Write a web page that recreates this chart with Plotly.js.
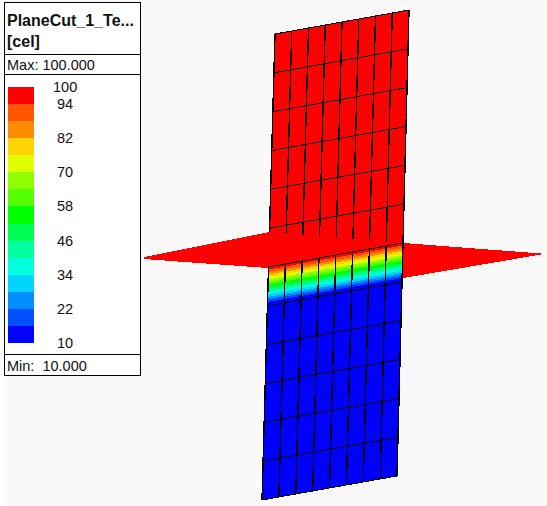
<!DOCTYPE html>
<html>
<head>
<meta charset="utf-8">
<script src="https://cdn.plot.ly/plotly-3.0.1.min.js"></script>
<style>
html,body{margin:0;padding:0;background:#fff}
#chart{width:547px;height:506px}
.js-plotly-plot .scatterlayer path,.js-plotly-plot .barlayer path,.js-plotly-plot .shapelayer path{shape-rendering:crispEdges}
</style>
</head>
<body>
<div id="chart"></div>
<script>
// Legend
const titleLines = ['PlaneCut_1_Te...', '[cel]'];
const maxLabel = 'Max: 100.000';
const minLabel = 'Min:  10.000';
const tickLabels = [100, 94, 82, 70, 58, 46, 34, 22, 10];
const bandLows = [94,88,82,76,70,64,58,52,46,40,34,28,22,16,10];
const bandColors = ['#ff0000','#ff5500','#ff8c00','#ffd400','#dfff00','#8fff00','#55ff00','#00ff00','#00ff55','#00ff9f','#00ffdd','#00d4ff','#008fff','#0050ff','#0000ff'];

// Cut planes, outline points
const uprightTopLeft = [275, 34], uprightTopRight = [409, 10];
const uprightBottomLeft = [262, 500], uprightBottomRight = [397, 476];
const flatX = [144, 270, 403, 541, 541, 403, 268, 144];
const flatY = [257, 232, 243, 253.5, 254.5, 278, 268, 259];
const meshColumns = 8, meshRows = 12, meshRowOfCut = 6;
const gradientDepth = 35;   // px down the plane from 100 to the last band

const lerp = (a, b, t) => a + (b - a) * t;
const onPlane = (u, v) => {
  const lx = lerp(uprightTopLeft[0], uprightBottomLeft[0], v), ly = lerp(uprightTopLeft[1], uprightBottomLeft[1], v);
  const rx = lerp(uprightTopRight[0], uprightBottomRight[0], v), ry = lerp(uprightTopRight[1], uprightBottomRight[1], v);
  return [lerp(lx, rx, u), lerp(ly, ry, u)];
};
const span = uprightBottomLeft[1] - uprightTopLeft[1];
const cutV = meshRowOfCut / meshRows;

function poly(pts, color) {
  return {type:'scatter', mode:'lines', x:pts.map(p=>p[0]), y:pts.map(p=>p[1]),
    fill:'toself', fillcolor:color, line:{width:0, color:color}, hoverinfo:'skip', showlegend:false};
}
function lineTrace(xs, ys, width) {
  return {type:'scatter', mode:'lines', x:xs, y:ys, line:{color:'#000', width}, hoverinfo:'skip', showlegend:false, connectgaps:false};
}
function meshLines(vFrom, vTo, rowFrom, rowTo) {
  const vx = [], vy = [], hx = [], hy = [];
  for (let c = 0; c <= meshColumns; c++) {
    const u = c / meshColumns;
    const a = onPlane(u, vFrom), b = onPlane(u, vTo);
    vx.push(a[0], b[0], null); vy.push(a[1], b[1], null);
  }
  for (let r = rowFrom; r <= rowTo; r++) {
    const a = onPlane(0, r / meshRows), b = onPlane(1, r / meshRows);
    hx.push(a[0], b[0], null); hy.push(a[1], b[1], null);
  }
  return [lineTrace(vx, vy, 1.4), lineTrace(hx, hy, 1)];
}

const traces = [];
// upper half of the upright plane
traces.push(poly([onPlane(0,0), onPlane(1,0), onPlane(1,cutV), onPlane(0,cutV)], '#ff0000'));
traces.push(...meshLines(0, cutV, 0, meshRowOfCut - 1));
// horizontal plane
traces.push(poly(flatX.map((x,i)=>[x, flatY[i]]), '#ff0000'));
// lower half
traces.push(poly([onPlane(0,cutV), onPlane(1,cutV), onPlane(1,1), onPlane(0,1)], '#0000ff'));
// temperature bands below the cut
bandColors.forEach((color, i) => {
  if (i === bandColors.length - 1) return;
  const v0 = cutV + (i / (bandColors.length - 1)) * gradientDepth / span;
  const v1 = cutV + ((i + 1) / (bandColors.length - 1)) * gradientDepth / span;
  traces.push(poly([onPlane(0,v0), onPlane(1,v0), onPlane(1,v1), onPlane(0,v1)], color));
});
traces.push(...meshLines(cutV, 1, meshRowOfCut, meshRows));
// legend colour bar through its own temperature scale
traces.push({type:'bar', x:bandLows.map(()=>0.5), y:bandLows.map(()=>6), base:bandLows, width:1,
  marker:{color:bandColors, line:{width:0}}, opacity:1, xaxis:'x2', yaxis:'y2', hoverinfo:'skip', showlegend:false});

const W = 547, H = 506;
const textFont = {family:'Liberation Sans, Arial, sans-serif', size:14.5, color:'#111'};
const boldFont = {family:'Liberation Sans, Arial, sans-serif', size:16, color:'#111'};
const note = (text, x, y, font, anchor) => ({text, x, y, xref:'x', yref:'y', xanchor:anchor||'left', yanchor:'middle', showarrow:false, font, borderpad:0});
const annotations = [
  note('<b>'+titleLines[0]+'</b>', 6, 20, boldFont),
  note('<b>'+titleLines[1]+'</b>', 6, 41, boldFont),
  note(maxLabel, 6, 65, textFont),
  note(minLabel, 6, 366, textFont)
];
tickLabels.forEach(t => annotations.push({text:String(t), x:64.5, y:87 + (100 - t) / 90 * 256, xref:'x', yref:'y',
  xanchor:'center', yanchor:'middle', showarrow:false, font:textFont}));

const hline = (y) => ({type:'line', xref:'x', yref:'y', x0:4, x1:140, y0:y, y1:y, line:{color:'#000', width:1}, layer:'above'});
const layout = {
  width:W, height:H, margin:{l:0,r:0,t:0,b:0}, paper_bgcolor:'#f9f9f9', plot_bgcolor:'#f9f9f9', showlegend:false, barmode:'overlay',
  xaxis:{range:[0,W], visible:false, fixedrange:true, domain:[0,1]},
  yaxis:{range:[H,0], visible:false, fixedrange:true, domain:[0,1]},
  xaxis2:{range:[0,1], domain:[8/W, 34/W], visible:false, anchor:'y2', fixedrange:true},
  yaxis2:{range:[10,100], domain:[1-343/H, 1-87/H], visible:false, anchor:'x2', fixedrange:true},
  shapes:[
    {type:'rect', xref:'x', yref:'y', x0:0, x1:4, y0:0, y1:H, fillcolor:'#fff', line:{width:0}, layer:'below'},
    {type:'rect', xref:'x', yref:'y', x0:4.5, x1:140.5, y0:2.5, y1:375.5, fillcolor:'#fff', line:{color:'#000', width:1}, layer:'below'},
    hline(54.5), hline(74.5), hline(354.5)
  ],
  annotations
};
Plotly.newPlot('chart', traces, layout, {displayModeBar:false, staticPlot:true});
</script>
</body>
</html>
